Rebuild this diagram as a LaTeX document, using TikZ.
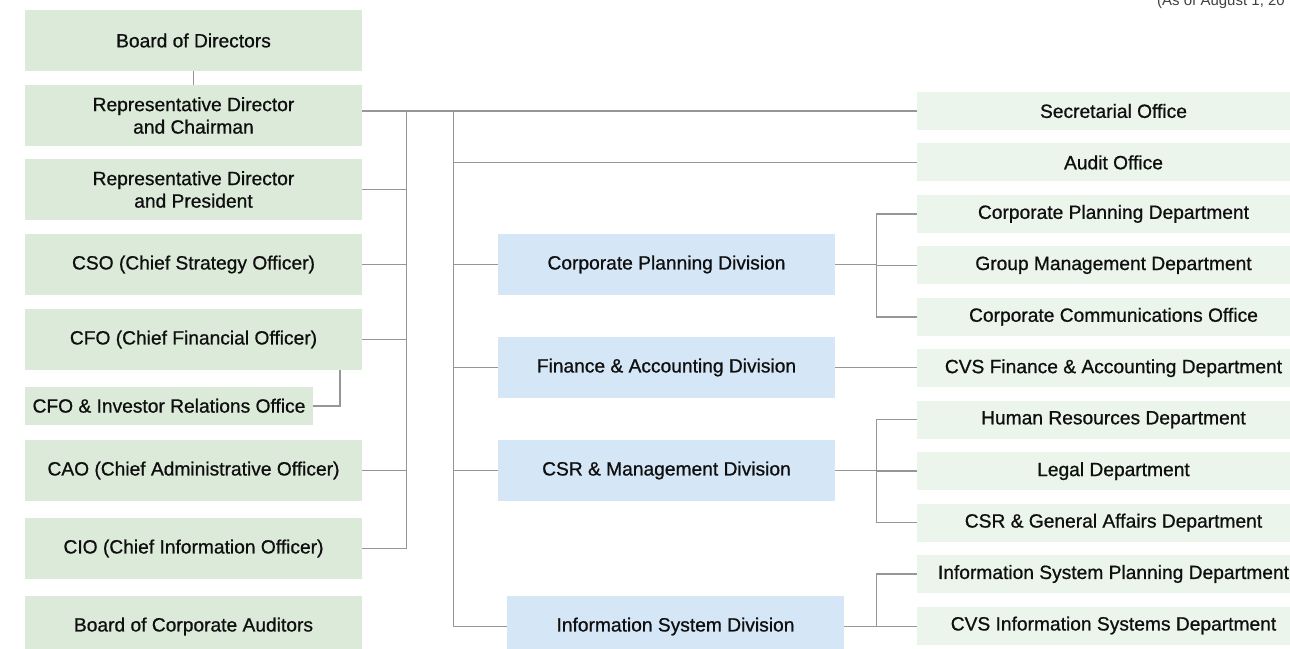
\documentclass[tikz,border=0pt]{standalone}
\usepackage{fontspec}
\setmainfont{Liberation Sans}[FakeBold=0.8]
\newfontfamily\notefont{Liberation Sans}
\definecolor{lgreen}{RGB}{220,235,217}
\definecolor{rgreen}{RGB}{235,245,236}
\definecolor{lblue}{RGB}{213,230,246}
\definecolor{linec}{RGB}{150,150,150}
\definecolor{txt}{RGB}{15,15,15}
\tikzset{
  box/.style={rectangle, inner sep=0pt, align=center, text=txt,
    font=\fontsize{19.2}{22.5}\selectfont},
  lbox/.style={box, fill=lgreen, minimum width=337pt, minimum height=61pt},
  bbox/.style={box, fill=lblue, minimum width=337pt, minimum height=61pt},
  rbox/.style={box, fill=rgreen, minimum width=393pt, minimum height=38pt},
  conn/.style={draw=linec, line width=1.5pt}
}
\begin{document}
\begin{tikzpicture}[x=1pt,y=-1pt]
\useasboundingbox (0,0) rectangle (1290,648);
\clip (0,0) rectangle (1290,648);
% left column
\node[lbox] (board) at (193.5,40.5) {Board of Directors};
\node[lbox] (chair) at (193.5,115.5) {Representative Director\\and Chairman};
\node[lbox] (pres) at (193.5,189.5) {Representative Director\\and President};
\node[lbox] (cso) at (193.5,264.5) {CSO (Chief Strategy Officer)};
\node[lbox] (cfo) at (193.5,339.5) {CFO (Chief Financial Officer)};
\node[box, fill=lgreen, minimum width=288pt, minimum height=37.5pt] (ir) at (169,405.75) {CFO \& Investor Relations Office};
\node[lbox] (cao) at (193.5,470.5) {CAO (Chief Administrative Officer)};
\node[lbox] (cio) at (193.5,548.5) {CIO (Chief Information Officer)};
\node[lbox] (bca) at (193.5,626.5) {Board of Corporate Auditors};
% divisions
\node[bbox] (cpd) at (666.5,264.5) {Corporate Planning Division};
\node[bbox] (fad) at (666.5,367.5) {Finance \& Accounting Division};
\node[bbox] (csr) at (666.5,470.5) {CSR \& Management Division};
\node[bbox] (isd) at (675.5,626.5) {Information System Division};
% right column
\node[rbox] (sec) at (1113.5,111) {Secretarial Office};
\node[rbox] (aud) at (1113.5,162.4) {Audit Office};
\node[rbox] (cpdept) at (1113.5,213.9) {Corporate Planning Department};
\node[rbox] (gmd) at (1113.5,265.3) {Group Management Department};
\node[rbox] (cco) at (1113.5,316.8) {Corporate Communications Office};
\node[rbox] (cvsf) at (1113.5,368.2) {CVS Finance \& Accounting Department};
\node[rbox] (hrd) at (1113.5,419.7) {Human Resources Department};
\node[rbox] (legal) at (1113.5,471.1) {Legal Department};
\node[rbox] (csrga) at (1113.5,522.6) {CSR \& General Affairs Department};
\node[rbox] (isp) at (1113.5,574.0) {Information System Planning Department};
\node[rbox] (cvsis) at (1113.5,625.5) {CVS Information Systems Department};
% note
\node[anchor=base west, inner sep=0pt, font=\notefont\fontsize{15}{18}\selectfont, text=black!75] (asof) at (1157,5) {(As of August 1, 20};
% junction coordinates
\coordinate (v1) at (406.5,111);
\coordinate (v2) at (453.5,111);
\coordinate (v3) at (876.5,213.9);
% connectors: left
\draw[conn] (board.south) -- (chair.north);
\draw[conn] (chair.east |- sec.west) -- (sec.west);
\draw[conn] (v1) -- (v1 |- cio.east) -- (cio.east);
\draw[conn] (pres.east) -- (pres.east -| v1);
\draw[conn] (cso.east) -- (cso.east -| v1);
\draw[conn] (cfo.east) -- (cfo.east -| v1);
\draw[conn] (cao.east) -- (cao.east -| v1);
\draw[conn] ([xshift=-22pt]cfo.south east) |- (ir.east);
% connectors: middle
\draw[conn] (v2) |- (isd.west);
\draw[conn] (v2 |- aud.west) -- (aud.west);
\draw[conn] (v2 |- cpd.west) -- (cpd.west);
\draw[conn] (v2 |- fad.west) -- (fad.west);
\draw[conn] (v2 |- csr.west) -- (csr.west);
% connectors: right
\draw[conn] (cpd.east) -- (cpd.east -| v3);
\draw[conn] (cpdept.west) -- (v3 |- cpdept.west) -- (v3 |- cco.west) -- (cco.west);
\draw[conn] (v3 |- gmd.west) -- (gmd.west);
\draw[conn] (fad.east) -- (fad.east -| cvsf.west);
\draw[conn] (csr.east) -- (csr.east -| v3);
\draw[conn] (hrd.west) -- (v3 |- hrd.west) -- (v3 |- csrga.west) -- (csrga.west);
\draw[conn] (v3 |- legal.west) -- (legal.west);
\draw[conn] (isd.east) -- (isd.east -| v3);
\draw[conn] (isp.west) -- (v3 |- isp.west) -- (v3 |- isd.east) -- (cvsis.west |- isd.east);
\end{tikzpicture}
\end{document}
